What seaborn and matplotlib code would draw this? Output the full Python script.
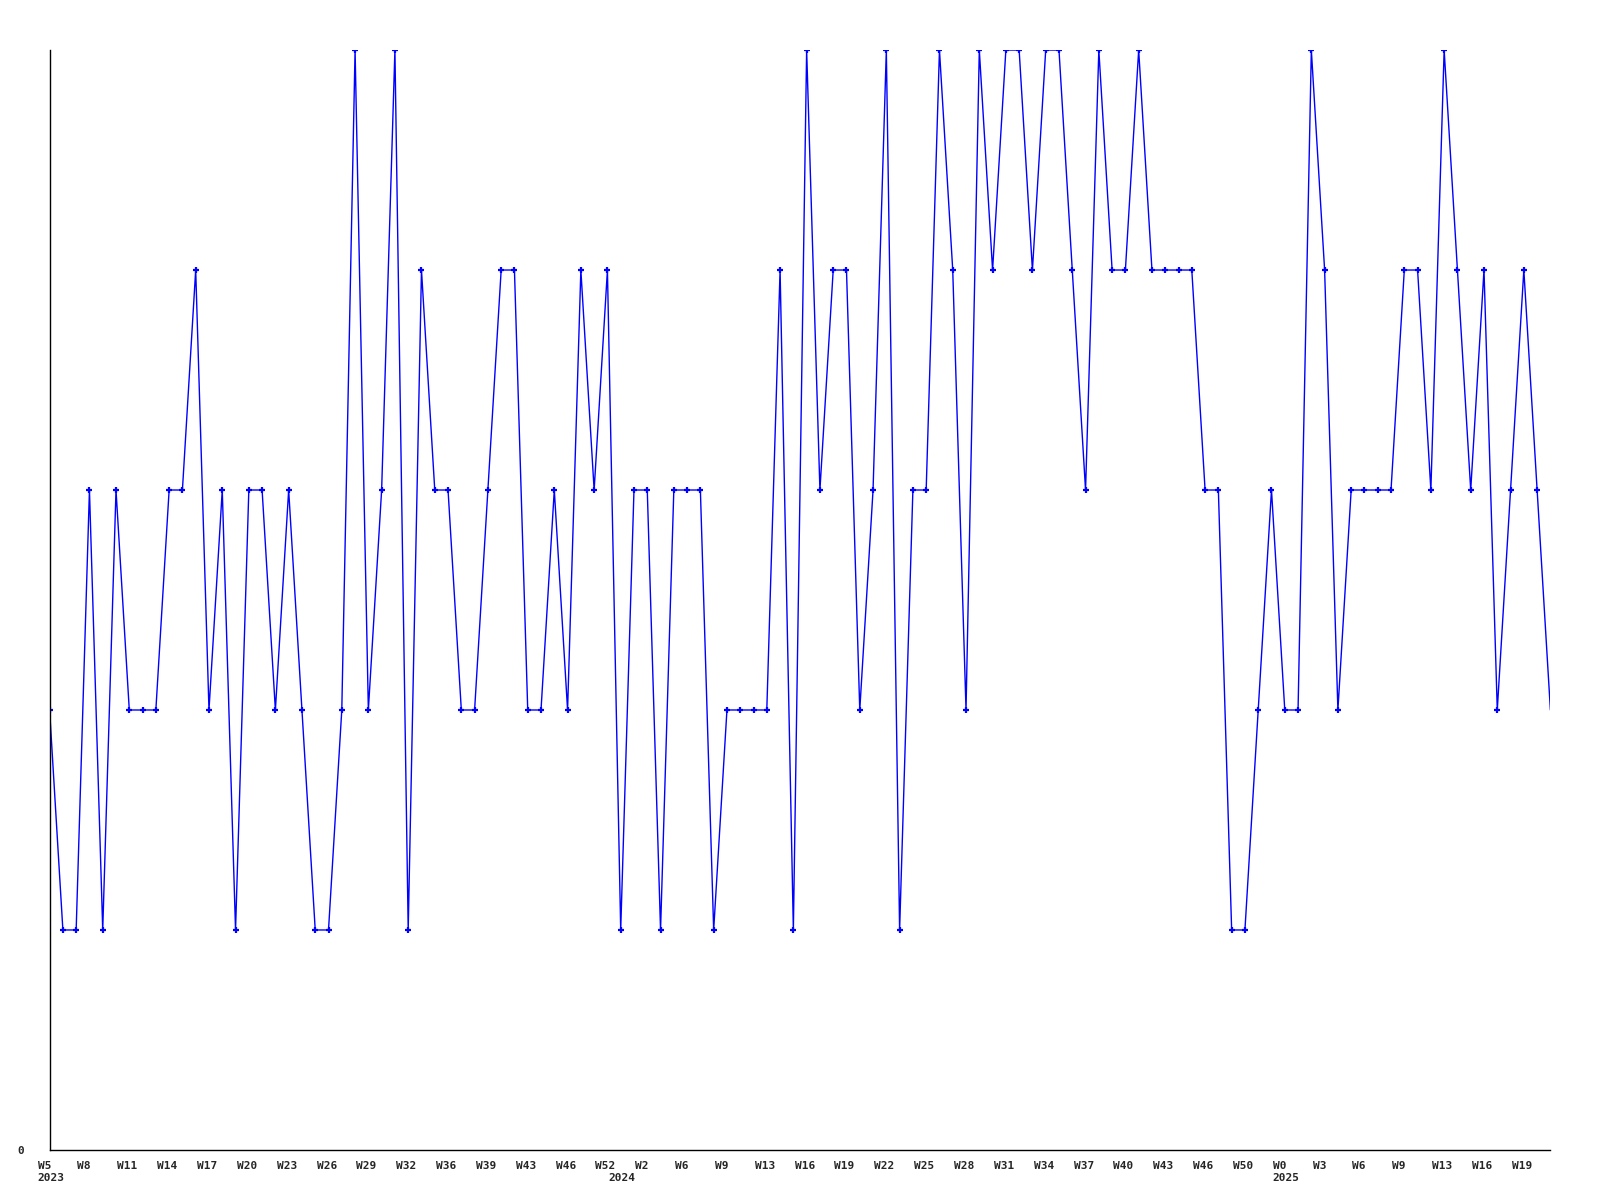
import numpy as np
import pandas as pd
import seaborn as sns
import matplotlib.pyplot as plt
from matplotlib.transforms import ScaledTranslation

# weekly counts, one point per week (W5 2023 .. W21 2025)
counts = [2, 1, 1, 3, 1, 3, 2, 2, 2, 3, 3, 4, 2, 3, 1, 3, 3, 2, 3, 2,
          1, 1, 2, 5, 2, 3, 5, 1, 4, 3, 3, 2, 2, 3, 4, 4, 2, 2, 3, 2,
          4, 3, 4, 1, 3, 3, 1, 3, 3, 3, 1, 2, 2, 2, 2, 4, 1, 5, 3, 4,
          4, 2, 3, 5, 1, 3, 3, 5, 4, 2, 5, 4, 5, 5, 4, 5, 5, 4, 3, 5,
          4, 4, 5, 4, 4, 4, 4, 3, 3, 1, 1, 2, 3, 2, 2, 5, 4, 2, 3, 3,
          3, 3, 4, 4, 3, 5, 4, 3, 4, 2, 3, 4, 3, 2]

# labels shown on every third point
week_labels = ["W5", "W8", "W11", "W14", "W17", "W20", "W23", "W26", "W29", "W32",
               "W36", "W39", "W43", "W46", "W52", "W2", "W6", "W9", "W13", "W16",
               "W19", "W22", "W25", "W28", "W31", "W34", "W37", "W40", "W43", "W46",
               "W50", "W0", "W3", "W6", "W9", "W13", "W16", "W19"]
year_labels = ["2023", "2024", "2025"]
year_pos = [0, 43, 93]

df = pd.DataFrame({"week": np.arange(len(counts)), "count": counts})

sns.set_style("white")
plt.rcParams["font.family"] = ["DejaVu Sans Mono"]

fig = plt.figure(figsize=(16, 12), dpi=100)
ax = fig.add_axes([0.031, 0.0417, 0.938, 0.9166])

sns.lineplot(data=df, x="week", y="count", ax=ax, color="#0000ff", linewidth=1,
             marker="+", markersize=5, markeredgewidth=1.6, markeredgecolor="#0000ff",
             markevery=list(range(len(counts) - 1)))

ax.set_xlim(0, len(counts) - 1)
ax.set_ylim(0, max(counts))
ax.set_xlabel("")
ax.set_ylabel("")
sns.despine(ax=ax)
for s in ["left", "bottom"]:
    ax.spines[s].set_color("black")
    ax.spines[s].set_linewidth(1)

ax.tick_params(length=0)
ax.set_yticks([0])
ax.set_yticklabels(["0"], fontsize=8, fontweight="bold")
ax.tick_params(axis="y", pad=18)

tick_pos = list(range(0, 3 * len(week_labels), 3))
ax.set_xticks(tick_pos)
ax.set_xticklabels(week_labels, fontsize=8, fontweight="bold", ha="left")
ax.tick_params(axis="x", pad=8)
shift = ScaledTranslation(-12 / 100, 0, fig.dpi_scale_trans)
for lbl in ax.get_xticklabels():
    lbl.set_transform(lbl.get_transform() + shift)

for pos, yr in zip(year_pos, year_labels):
    ax.annotate(yr, xy=(pos, 0), xycoords=("data", "axes fraction"),
                xytext=(-12, -23), textcoords="offset pixels",
                ha="left", va="top", fontsize=8, fontweight="bold")

fig.savefig("out.png", dpi=100, facecolor="white")
